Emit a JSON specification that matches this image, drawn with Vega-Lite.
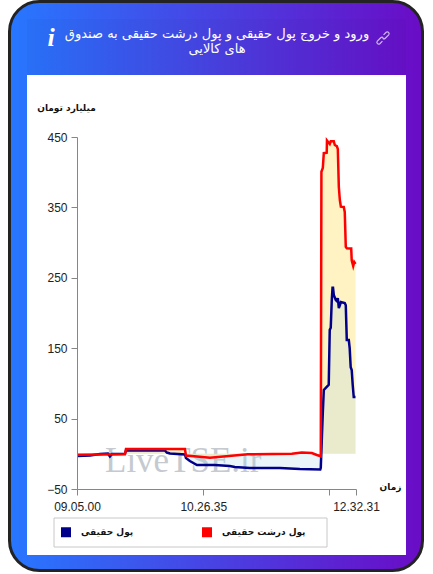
{"$schema":"https://vega.github.io/schema/vega-lite/v6.json","width":279,"height":352,"autosize":{"type":"none"},"padding":{"left":77,"top":137,"right":77,"bottom":85},"background":"white","datasets":{"flow":[
{"n":0,"s":"پول حقیقی","v":-3},{"n":10.3,"s":"پول حقیقی","v":-2.4},{"n":18.2,"s":"پول حقیقی","v":-0.3},{"n":24.5,"s":"پول حقیقی","v":0.4},{"n":26.1,"s":"پول حقیقی","v":-3.8},{"n":27.7,"s":"پول حقیقی","v":-0.3},{"n":38,"s":"پول حقیقی","v":0},{"n":38.8,"s":"پول حقیقی","v":4.7},{"n":69.6,"s":"پول حقیقی","v":4.7},{"n":71.2,"s":"پول حقیقی","v":1.8},{"n":73.6,"s":"پول حقیقی","v":0.4},{"n":85.5,"s":"پول حقیقی","v":-1},{"n":86.3,"s":"پول حقیقی","v":-6},{"n":89.4,"s":"پول حقیقی","v":-10.2},{"n":95,"s":"پول حقیقی","v":-16},{"n":109.2,"s":"پول حقیقی","v":-16},{"n":121,"s":"پول حقیقی","v":-17.3},{"n":125,"s":"پول حقیقی","v":-18.8},{"n":136.9,"s":"پول حقیقی","v":-20.2},{"n":160.7,"s":"پول حقیقی","v":-20.2},{"n":176.5,"s":"پول حقیقی","v":-21.6},{"n":192.7,"s":"پول حقیقی","v":-22.3},{"n":193.1,"s":"پول حقیقی","v":-20},{"n":193.9,"s":"پول حقیقی","v":19.6},{"n":194.7,"s":"پول حقیقی","v":58},{"n":195.5,"s":"پول حقیقی","v":90.6},{"n":197.8,"s":"پول حقیقی","v":95},{"n":199.4,"s":"پول حقیقی","v":98},{"n":200.2,"s":"پول حقیقی","v":176},{"n":201,"s":"پول حقیقی","v":179},{"n":201.8,"s":"پول حقیقی","v":218},{"n":202.4,"s":"پول حقیقی","v":236},{"n":202.8,"s":"پول حقیقی","v":236},{"n":203.4,"s":"پول حقیقی","v":225.6},{"n":205,"s":"پول حقیقی","v":218.5},{"n":205.8,"s":"پول حقیقی","v":217},{"n":206.6,"s":"پول حقیقی","v":221},{"n":207.4,"s":"پول حقیقی","v":207},{"n":208.2,"s":"پول حقیقی","v":211},{"n":209,"s":"پول حقیقی","v":215.6},{"n":212.1,"s":"پول حقیقی","v":214},{"n":212.9,"s":"پول حقیقی","v":211},{"n":213.7,"s":"پول حقیقی","v":161.6},{"n":215.3,"s":"پول حقیقی","v":161.6},{"n":216,"s":"پول حقیقی","v":150},{"n":216.8,"s":"پول حقیقی","v":123},{"n":217.6,"s":"پول حقیقی","v":119},{"n":218.4,"s":"پول حقیقی","v":97.7},{"n":219.2,"s":"پول حقیقی","v":80.7},{"n":220.6,"s":"پول حقیقی","v":80.7},
{"n":0,"s":"پول درشت حقیقی","v":-1.5},{"n":38,"s":"پول درشت حقیقی","v":-0.5},{"n":38.8,"s":"پول درشت حقیقی","v":6.8},{"n":85.5,"s":"پول درشت حقیقی","v":6.8},{"n":86.3,"s":"پول درشت حقیقی","v":-2.5},{"n":95,"s":"پول درشت حقیقی","v":-4},{"n":105.3,"s":"پول درشت حقیقی","v":-5.5},{"n":135.3,"s":"پول درشت حقیقی","v":-0.7},{"n":170.2,"s":"پول درشت حقیقی","v":0},{"n":178,"s":"پول درشت حقیقی","v":2},{"n":186,"s":"پول درشت حقیقی","v":1},{"n":190,"s":"پول درشت حقیقی","v":-1.7},{"n":193.1,"s":"پول درشت حقیقی","v":-3.5},{"n":193.6,"s":"پول درشت حقیقی","v":400.7},{"n":194.7,"s":"پول درشت حقیقی","v":406},{"n":195.5,"s":"پول درشت حقیقی","v":427},{"n":197.8,"s":"پول درشت حقیقی","v":427.7},{"n":198,"s":"پول درشت حقیقی","v":445},{"n":200.2,"s":"پول درشت حقیقی","v":440},{"n":201,"s":"پول درشت حقیقی","v":444},{"n":203.4,"s":"پول درشت حقیقی","v":444},{"n":204.2,"s":"پول درشت حقیقی","v":438.6},{"n":205.8,"s":"پول درشت حقیقی","v":437},{"n":206.6,"s":"پول درشت حقیقی","v":433},{"n":207.4,"s":"پول درشت حقیقی","v":379},{"n":208.2,"s":"پول درشت حقیقی","v":360.5},{"n":209,"s":"پول درشت حقیقی","v":351},{"n":211.3,"s":"پول درشت حقیقی","v":350.6},{"n":212.1,"s":"پول درشت حقیقی","v":343.5},{"n":212.9,"s":"پول درشت حقیقی","v":294},{"n":213.7,"s":"پول درشت حقیقی","v":292},{"n":217.2,"s":"پول درشت حقیقی","v":291.6},{"n":217.6,"s":"پول درشت حقیقی","v":275},{"n":218.8,"s":"پول درشت حقیقی","v":266.8},{"n":219.6,"s":"پول درشت حقیقی","v":272.4},{"n":220.6,"s":"پول درشت حقیقی","v":269.6}
]},
"layer":[
{"data":{"values":[{}]},"mark":{"type":"rect","x":-67.5,"x2":345.5,"y":-135.5,"y2":433.5,"cornerRadius":30,"stroke":"#232323","strokeWidth":3,"fill":{"gradient":"linear","x1":0,"y1":0,"x2":1,"y2":0,"stops":[{"offset":0,"color":"#2777ff"},{"offset":1,"color":"#6a0cc6"}]}},"encoding":{}},
{"data":{"values":[{}]},"mark":{"type":"rect","x":-50,"x2":329,"y":-118,"y2":-62,"fill":"#000000","opacity":0.025},"encoding":{}},
{"data":{"values":[{}]},"mark":{"type":"rect","x":-50,"x2":329,"y":-62,"y2":418,"fill":"white"},"encoding":{}},
{"data":{"values":[{}]},"mark":{"type":"rect","x":-23,"x2":250,"y":381,"y2":410,"fill":"white","stroke":"#c8c8c8","strokeWidth":1},"encoding":{}},
{"data":{"values":[{"t":["ورود و خروج پول حقیقی و پول درشت حقیقی به صندوق","های کالایی"]}]},"mark":{"type":"text","x":140,"y":-103,"fill":"white","font":"DejaVu Sans","fontSize":13,"lineHeight":15,"align":"center","baseline":"middle"},"encoding":{"text":{"field":"t"}}},
{"data":{"values":[{"t":"i"}]},"mark":{"type":"text","x":-26,"y":-99,"fill":"white","font":"Liberation Serif","fontSize":26,"fontStyle":"italic","fontWeight":"bold","align":"center","baseline":"middle"},"encoding":{"text":{"field":"t"}}},
{"data":{"values":[{"k":"link"}]},"mark":{"type":"point","x":306,"y":-99,"size":130,"filled":false,"stroke":"white","strokeWidth":1.2,"shape":"M0.1,-0.55 L0.55,-1 A0.32,0.32 0 0 1 1,-0.55 L0.4,0.05 A0.32,0.32 0 0 1 -0.05,0.05 M-0.1,0.55 L-0.55,1 A0.32,0.32 0 0 1 -1,0.55 L-0.4,-0.05 A0.32,0.32 0 0 1 0.05,-0.05"},"encoding":{}},
{"data":{"values":[{"t":"LiveTSE.ir"}]},"mark":{"type":"text","x":28,"y":335,"align":"left","baseline":"alphabetic","font":"Liberation Serif","fontSize":35,"fill":"#c4cad0"},"encoding":{"text":{"field":"t"}}},
{"data":{"name":"flow"},"transform":[{"filter":"datum.s==='پول درشت حقیقی'"}],"mark":{"type":"area","fill":"#fff0b8","opacity":0.85},"encoding":{"x":{"field":"n","type":"quantitative","scale":{"domain":[0,221],"nice":false,"zero":false},"axis":{"zindex":1,"values":[0,100,200,221],"labelExpr":"datum.value===0?'09.05.00':datum.value===100?'10.26.35':datum.value===221?'12.32.31':''","grid":false,"domainColor":"#868686","tickColor":"#868686","tickSize":6,"labelFont":"Liberation Sans","labelFontSize":12,"labelColor":"#222222","labelPadding":6,"labelAngle":0,"title":"زمان","titleFont":"DejaVu Sans","titleFontSize":9,"titleFontWeight":"bold","titleColor":"#111111","titleX":313,"titleY":-7,"titleAnchor":"middle","titleAlign":"center","labelFlush":false,"labelOverlap":false}},"y":{"field":"v","type":"quantitative","scale":{"domain":[-50,450],"nice":false,"zero":false},"axis":{"zindex":1,"values":[-50,50,150,250,350,450],"grid":false,"domainColor":"#868686","tickColor":"#868686","tickSize":6,"labelFont":"Liberation Sans","labelFontSize":12,"labelColor":"#222222","labelPadding":4,"title":"میلیارد تومان","titleFont":"DejaVu Sans","titleFontSize":9,"titleFontWeight":"bold","titleColor":"#111111","titleAngle":0,"titleX":-11,"titleY":-25,"titleAlign":"center"}},"y2":{"datum":0}}},
{"data":{"name":"flow"},"transform":[{"filter":"datum.s==='پول حقیقی'"}],"mark":{"type":"area","fill":"#a8d8e8","opacity":0.25},"encoding":{"x":{"field":"n","type":"quantitative"},"y":{"field":"v","type":"quantitative"},"y2":{"datum":0}}},
{"data":{"name":"flow"},"mark":{"type":"line","strokeWidth":2.5,"strokeJoin":"miter"},"encoding":{"x":{"field":"n","type":"quantitative"},"y":{"field":"v","type":"quantitative"},"order":{"field":"n"},"detail":{"field":"s"},"color":{"field":"s","type":"nominal","scale":{"domain":["پول حقیقی","پول درشت حقیقی"],"range":["#00008b","#ff0000"]},"legend":{"orient":"none","legendX":-23,"legendY":383,"direction":"horizontal","columns":2,"title":null,"symbolType":"square","symbolSize":25,"symbolStrokeWidth":5,"labelFont":"DejaVu Sans","labelFontSize":9,"labelFontWeight":"bold","labelColor":"#111111","labelOffset":10,"columnPadding":60,"padding":7}}}}
],"config":{"view":{"stroke":null}}}
